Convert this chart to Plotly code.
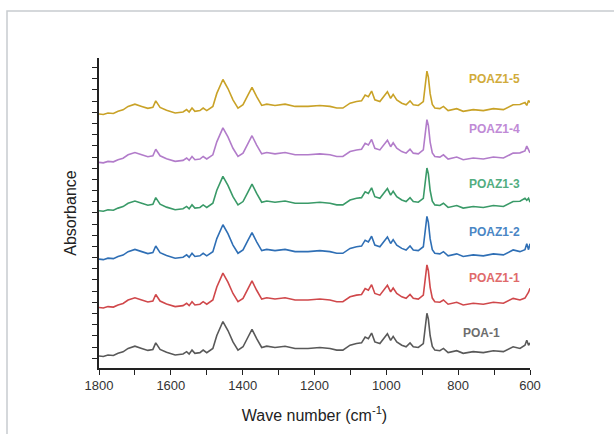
import plotly.graph_objects as go

# Wavenumbers (cm-1) and the POA-1 spectrum
wavenumber = [1800, 1788, 1775, 1760, 1747, 1733, 1719, 1700, 1681, 1664, 1650, 1642, 1630, 1612, 1588,
              1566, 1556, 1549, 1541, 1533, 1519, 1510, 1500, 1491, 1483, 1472, 1463, 1455,
              1441, 1427, 1413, 1399, 1385, 1374, 1361, 1347, 1333, 1310, 1282, 1254,
              1218, 1185, 1157, 1138, 1121, 1101, 1083, 1069, 1059, 1050, 1041, 1032,
              1018, 1009, 997, 988, 981, 971, 957, 945, 934, 925, 911, 897, 892, 887, 883,
              878, 872, 865, 851, 841, 828, 804, 786, 758, 730, 702, 674, 647,
              628, 614, 609, 604, 600]

base_absorbance = [0.123, 0.118, 0.133, 0.128, 0.150, 0.165, 0.200, 0.223, 0.200, 0.180, 0.190, 0.257, 0.190, 0.160, 0.133,
                   0.143, 0.167, 0.143, 0.183, 0.150, 0.157, 0.183, 0.157, 0.177, 0.200, 0.333, 0.410, 0.475,
                   0.383, 0.267, 0.183, 0.217, 0.317, 0.395, 0.300, 0.210, 0.223, 0.210, 0.223, 0.200,
                   0.200, 0.210, 0.200, 0.183, 0.183, 0.233, 0.250, 0.257, 0.317, 0.300, 0.357, 0.267,
                   0.250, 0.290, 0.350, 0.283, 0.323, 0.267, 0.233, 0.217, 0.257, 0.217, 0.210, 0.250, 0.380, 0.560, 0.500,
                   0.330, 0.220, 0.183, 0.177, 0.200, 0.157, 0.177, 0.150, 0.167, 0.157, 0.177, 0.167, 0.217]

# Per-sample tail values (628 -> 600 cm-1), differ slightly between samples
tails = {
    "POA-1":   [0.200, 0.233, 0.283, 0.233, 0.257],
    "POAZ1-1": [0.200, 0.220, 0.250, 0.280, 0.320],
    "POAZ1-2": [0.200, 0.220, 0.280, 0.220, 0.280],
    "POAZ1-3": [0.220, 0.250, 0.230, 0.250, 0.210],
    "POAZ1-4": [0.220, 0.240, 0.290, 0.240, 0.220],
    "POAZ1-5": [0.220, 0.240, 0.210, 0.260, 0.240],
}

samples = ["POA-1", "POAZ1-1", "POAZ1-2", "POAZ1-3", "POAZ1-4", "POAZ1-5"]
stack_offset = [0.0, 0.495, 0.99, 1.485, 1.98, 2.475]
colors = ["#595959", "#d0484b", "#2f6fb5", "#3a9a68", "#b27cca", "#c9a227"]
label_colors = ["#6d6d6d", "#e06a6a", "#4a86c5", "#52ad7f", "#c08ad6", "#d1ab3a"]

fig = go.Figure()
label_pos = [(734, 0.36), (698, 0.92), (698, 1.39), (698, 1.88), (698, 2.44), (698, 2.96)]

for i, name in enumerate(samples):
    vals = base_absorbance + tails[name]
    y = [v + stack_offset[i] for v in vals]
    fig.add_trace(go.Scatter(x=wavenumber, y=y, mode="lines", name=name,
                             line=dict(color=colors[i], width=1.6), showlegend=False))
    fig.add_annotation(x=label_pos[i][0], y=label_pos[i][1], text="<b>%s</b>" % name,
                       showarrow=False, font=dict(family="Arial", size=12, color=label_colors[i]))

fig.update_layout(
    width=614, height=434,
    margin=dict(l=99, r=84, t=58, b=59),
    paper_bgcolor="white", plot_bgcolor="white",
    font=dict(family="Arial", color="#222222"),
    xaxis=dict(range=[1800, 600], autorange=False, showgrid=False, zeroline=False,
               showline=True, linecolor="#222222", linewidth=1.5,
               ticks="outside", ticklen=5, tickwidth=1.3, tickcolor="#222222",
               tick0=600, dtick=200, tickfont=dict(size=13, color="#333333"),
               minor=dict(dtick=100, ticks="outside", ticklen=5, tickwidth=1.3, tickcolor="#222222"),
               title=dict(text="Wave number (cm<sup>-1</sup>)", font=dict(size=16, color="#222222"), standoff=17),
               mirror=False),
    yaxis=dict(range=[0, 3.17], autorange=False, showgrid=False, zeroline=False,
               showline=True, linecolor="#222222", linewidth=1.5,
               ticks="outside", ticklen=5, tickwidth=1.3, tickcolor="#222222",
               tick0=0.10, dtick=0.1143, showticklabels=False,
               title=dict(text="Absorbance", font=dict(size=16, color="#222222"), standoff=12)),
    shapes=[dict(type="rect", xref="paper", yref="paper",
                 x0=(7 - 99) / 431, x1=(640 - 99) / 431,
                 y0=(375 - 460) / 317, y1=(375 - 10) / 317,
                 line=dict(color="#c8ccd0", width=1.5), layer="below")],
)

fig.write_html("out.html", config={"displayModeBar": False},
               post_script="document.body.style.margin='0';")
